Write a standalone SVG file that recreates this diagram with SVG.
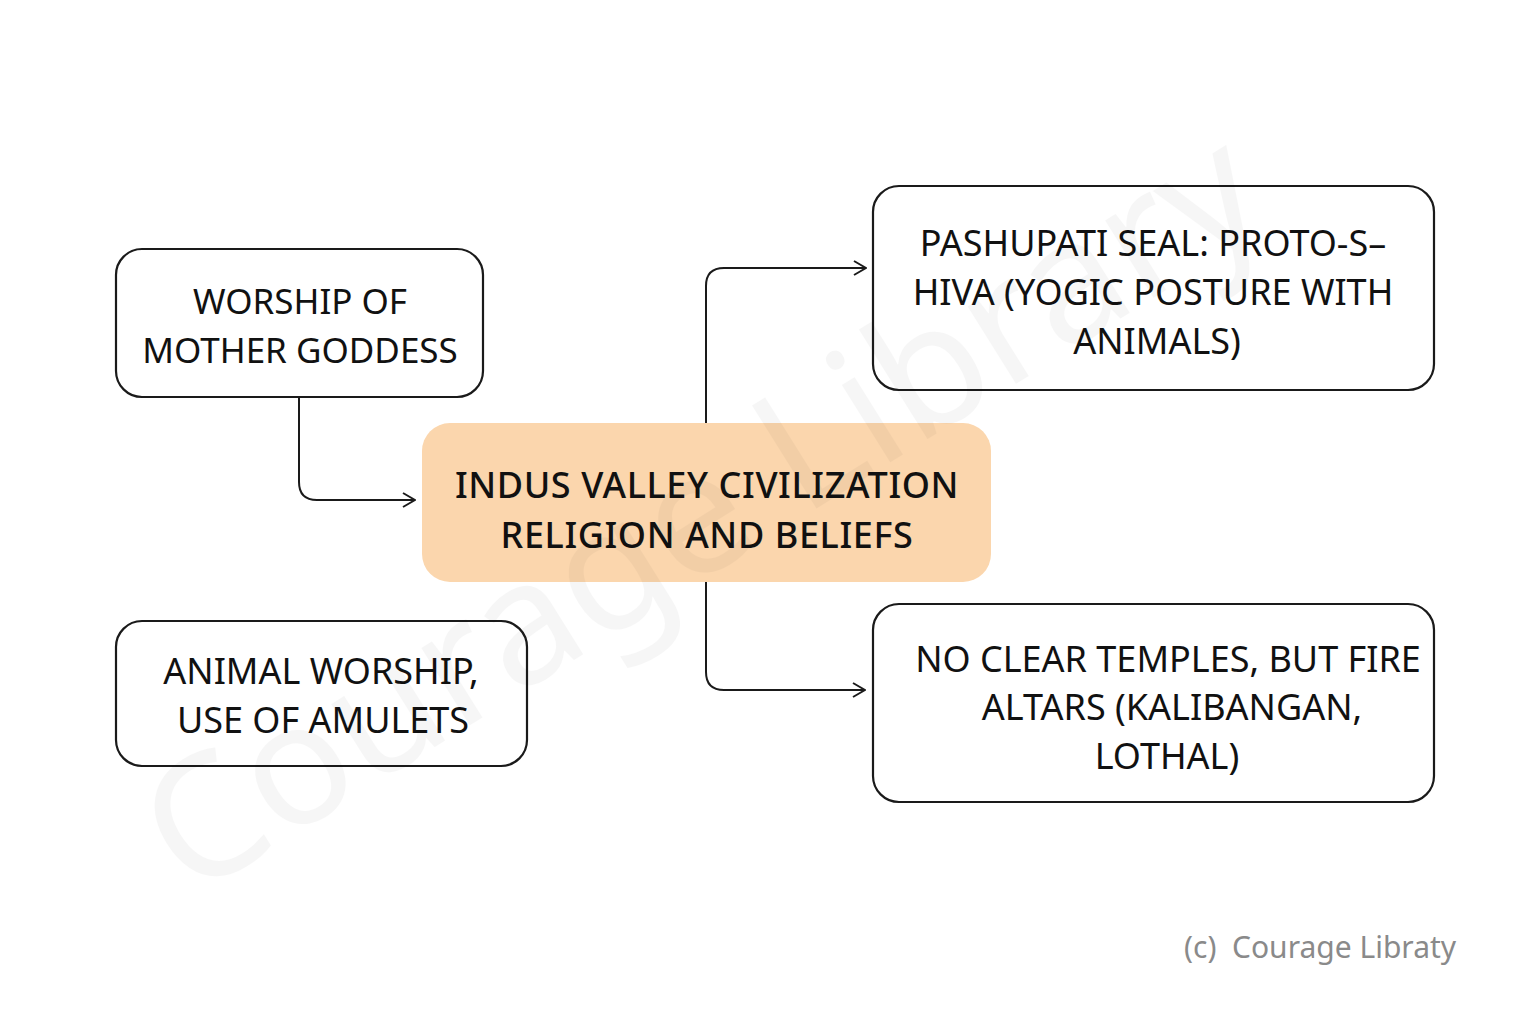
<svg xmlns="http://www.w3.org/2000/svg" width="1536" height="1024" viewBox="0 0 1536 1024">
<defs>
<style>
.box{fill:#ffffff;stroke:#1a1a1a;stroke-width:2.2}
.main{fill:#fbd6ad;stroke:none}
.t{font-family:"Noto Sans","Open Sans","Liberation Sans",sans-serif;font-size:35px;fill:#111;text-anchor:middle}
.tr{font-family:"Noto Sans","Open Sans","Liberation Sans",sans-serif;font-size:36px;fill:#111;text-anchor:middle}
.tm{font-family:"Noto Sans","Open Sans","Liberation Sans",sans-serif;font-size:36px;fill:#111;text-anchor:middle;font-weight:500;letter-spacing:0.6px}
.conn{fill:none;stroke:#1a1a1a;stroke-width:2}
.wm{font-family:"Noto Sans","Open Sans",sans-serif;font-size:170px;fill:#000;opacity:0.03}
.copy{font-family:"Noto Sans","Open Sans","Liberation Sans",sans-serif;font-size:30px;fill:#8a8a8a;white-space:pre}
</style>
<marker id="arr" viewBox="0 0 14 16" refX="13" refY="8" markerWidth="14" markerHeight="16" markerUnits="userSpaceOnUse" orient="auto">
<path d="M1,1 L13,8 L1,15" fill="none" stroke="#1a1a1a" stroke-width="2"/>
</marker>
</defs>
<rect width="1536" height="1024" fill="#ffffff"/>
<g id="connectors">
<path class="conn" d="M299,397 V482 Q299,500 317,500 H415" marker-end="url(#arr)"/>
<path class="conn" d="M706,423 V286 Q706,268 724,268 H866" marker-end="url(#arr)"/>
<path class="conn" d="M706,582 V672 Q706,690 724,690 H865" marker-end="url(#arr)"/>
</g>
<g id="node-mother">
<rect class="box" x="116" y="249" width="367" height="148" rx="26"/>
<text class="t" x="300" y="314">WORSHIP OF</text>
<text class="t" x="300" y="363">MOTHER GODDESS</text>
</g>
<g id="node-main">
<rect class="main" x="422" y="423" width="569" height="159" rx="28"/>
<text class="tm" x="707" y="498">INDUS VALLEY CIVILIZATION</text>
<text class="tm" x="707" y="548">RELIGION AND BELIEFS</text>
</g>
<g id="node-pashupati">
<rect class="box" x="873" y="186" width="561" height="204" rx="26"/>
<text class="tr" x="1153" y="256">PASHUPATI SEAL: PROTO-S–</text>
<text class="tr" x="1153" y="305">HIVA (YOGIC POSTURE WITH</text>
<text class="tr" x="1157" y="354">ANIMALS)</text>
</g>
<g id="node-temples">
<rect class="box" x="873" y="604" width="561" height="198" rx="26"/>
<text class="tr" x="1168" y="672">NO CLEAR TEMPLES, BUT FIRE</text>
<text class="tr" x="1172" y="720">ALTARS (KALIBANGAN,</text>
<text class="tr" x="1167" y="769">LOTHAL)</text>
</g>
<g id="node-animal">
<rect class="box" x="116" y="621" width="411" height="145" rx="26"/>
<text class="tr" x="321" y="684">ANIMAL WORSHIP,</text>
<text class="tr" x="323" y="733">USE OF AMULETS</text>
</g>
<text class="wm" transform="translate(190,900) rotate(-32)">Courage Library</text>
<text class="copy" x="1184" y="958" xml:space="preserve">(c)  Courage Libraty</text>
</svg>
